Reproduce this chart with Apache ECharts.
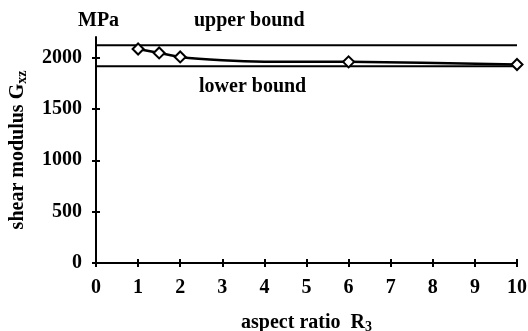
<!DOCTYPE html>
<html><head><meta charset="utf-8">
<script src="https://cdn.jsdelivr.net/npm/echarts@6/dist/echarts.min.js"></script>
<style>html,body{margin:0;padding:0;background:#fff}#c{width:528px;height:331px}</style>
</head><body><div id="c"></div>
<script>
var aspectRatio = [1, 1.5, 2, 3, 4, 6, 10];
var shearModulus = [2083, 2045, 2006, 1974, 1960, 1958, 1932];
var markedPoints = [true, true, true, false, false, true, true];
var upperBound = 2120;
var lowerBound = 1915;
var boundX = [0, 10];
var xTicks = [0,1,2,3,4,5,6,7,8,9,10];
var yTicks = [0, 500, 1000, 1500, 2000];

var FONT = '"Liberation Serif", "Times New Roman", serif';
var FS = 20;
var chart = echarts.init(document.getElementById('c'));
var dataPts = aspectRatio.map(function(x,i){
  return {value:[x, shearModulus[i]], symbol: markedPoints[i] ? 'diamond' : 'none'};
});
var common = {color:'#000', fontFamily: FONT, fontWeight:'bold', fontSize:FS};
var subStyle = Object.assign({}, common, {fontSize:14, verticalAlign:'bottom', padding:[9,0,0,0]});
chart.setOption({
  animation:false,
  backgroundColor:'#fff',
  grid:{left:96, right:11, top:37, bottom:68, containLabel:false, outerBoundsMode:'none'},
  xAxis:[{
    type:'value', min:0, max:10, interval:1,
    axisLine:{show:true, lineStyle:{color:'#000', width:2}},
    axisTick:{show:true, length:4, lineStyle:{color:'#000', width:2}},
    axisLabel:Object.assign({margin:15, formatter:function(v){return String(v);}}, common),
    splitLine:{show:false},
    name:'aspect ratio  R{sub|3}', nameLocation:'middle', nameGap:48,
    nameTextStyle:Object.assign({rich:{sub:subStyle}}, common)
  },{
    type:'value', min:0, max:10, interval:1, position:'bottom',
    axisLine:{show:false}, axisTick:{show:true, inside:true, length:4, lineStyle:{color:'#000', width:2}},
    axisLabel:{show:false}, splitLine:{show:false}
  }],
  yAxis:[{
    type:'value', min:0, max:2200,
    axisLine:{show:true, lineStyle:{color:'#000', width:2}},
    axisTick:{show:true, length:4, customValues:yTicks, lineStyle:{color:'#000', width:2}},
    axisLabel:Object.assign({margin:14, customValues:yTicks, formatter:function(v){return String(v);}}, common),
    splitLine:{show:false},
    name:'shear modulus G{sub|xz}', nameLocation:'middle', nameGap:67, nameRotate:90,
    nameTextStyle:Object.assign({rich:{sub:subStyle}}, common)
  },{
    type:'value', min:0, max:2200, position:'left',
    axisLine:{show:false}, axisTick:{show:true, inside:true, length:4, customValues:yTicks, lineStyle:{color:'#000', width:2}},
    axisLabel:{show:false}, splitLine:{show:false}
  }],
  graphic:[
    {type:'text', left:78, top:11, style:{text:'MPa', fill:'#000', font:'bold '+FS+'px '+FONT}},
    {type:'text', left:194, top:11, style:{text:'upper bound', fill:'#000', font:'bold '+FS+'px '+FONT}},
    {type:'text', left:199, top:77, style:{text:'lower bound', fill:'#000', font:'bold '+FS+'px '+FONT}}
  ],
  series:[
    {type:'line', data:boundX.map(function(x){return [x, upperBound];}), symbol:'none', lineStyle:{color:'#000', width:2}},
    {type:'line', data:boundX.map(function(x){return [x, lowerBound];}), symbol:'none', lineStyle:{color:'#000', width:2}},
    {type:'line', data:dataPts, smooth:0.3, symbolSize:11, showAllSymbol:true,
     itemStyle:{color:'#fff', borderColor:'#000', borderWidth:2},
     lineStyle:{color:'#000', width:2.5}}
  ]
});
</script></body></html>
